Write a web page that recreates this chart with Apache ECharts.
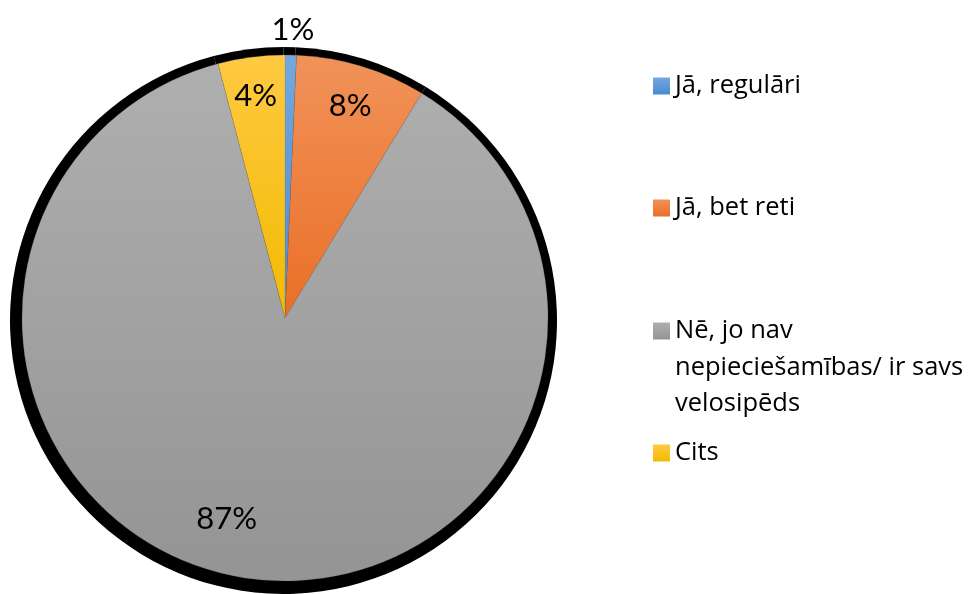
<!DOCTYPE html>
<html>
<head>
    <meta charset="utf-8">
    <title>Pie</title>
    <script type="text/javascript" src="https://cdn.jsdelivr.net/npm/echarts@6/dist/echarts.min.js"></script>
</head>
<body style="margin:0;background:#fff;">
    <div id="main" style="width:968px;height:594px;"></div>
    <script type="text/javascript">
        // dati
        var names = ['Jā, regulāri', 'Jā, bet reti', 'Nē, jo nav\nnepiecie\u0161amības/ ir savs\nvelosipēds', 'Cits'];
        var values = [0.7, 8, 87.2, 4.1];
        var topColors = ['#74a8de', '#f19259', '#afafaf', '#ffc942'];
        var bottomColors = ['#4a8ad2', '#ea6f26', '#949494', '#f2bb00'];

        // label nobīdes no "inside" pozīcijas
        var labelShift = [[5, -154], [26, -83], [-39, 68], [-12, -89]];
        // leģendas vienību centri (y)
        var legendY = [86, 208, 331, 453];
        var lineH = 36.5;

        var myChart = echarts.init(document.getElementById('main'));

        function grad(i) {
            return new echarts.graphic.LinearGradient(0, 0, 0, 1, [
                { offset: 0, color: topColors[i] },
                { offset: 1, color: bottomColors[i] }
            ]);
        }

        var mainData = [];
        var shadowData = [];
        for (var i = 0; i < names.length; i++) {
            mainData.push({ name: names[i], value: values[i], itemStyle: { color: grad(i) } });
            shadowData.push({ name: 'shadow_' + i, value: values[i] });
        }

        var legends = [];
        for (var i = 0; i < names.length; i++) {
            var lines = names[i].split('\n').length;
            var pad = lines - 1; // tukšas rindas augšā, lai ikona būtu pie pirmās rindas
            legends.push({
                orient: 'vertical',
                left: 653,
                top: legendY[i] - (pad + lines) * lineH / 2,
                padding: 0,
                itemWidth: 17,
                itemHeight: 17,
                icon: 'rect',
                selectedMode: false,
                itemStyle: { borderWidth: 0 },
                data: [names[i]],
                formatter: (function (p) {
                    return function (n) { return new Array(p + 1).join('\n') + n; };
                })(pad),
                textStyle: {
                    fontFamily: 'Open Sans',
                    fontSize: 25.5,
                    lineHeight: lineH,
                    color: '#000'
                }
            });
        }

        var option = {
            animation: false,
            legend: legends,
            series: [
                {
                    name: 'shadow',
                    type: 'pie',
                    silent: true,
                    z: 1,
                    center: [283.5, 320.5],
                    radius: 273.5,
                    startAngle: 90,
                    label: { show: false },
                    labelLine: { show: false },
                    itemStyle: { color: '#000', borderWidth: 0 },
                    data: shadowData
                },
                {
                    name: 'main',
                    type: 'pie',
                    z: 2,
                    center: [285, 318],
                    radius: 263,
                    startAngle: 90,
                    itemStyle: { borderColor: 'rgba(120,120,120,0.5)', borderWidth: 0.5 },
                    label: {
                        show: true,
                        position: 'inside',
                        fontFamily: 'Lato',
                        fontSize: 31,
                        color: '#000',
                        formatter: function (p) {
                            return Math.round(p.percent) + '%';
                        }
                    },
                    labelLayout: function (p) {
                        return { dx: labelShift[p.dataIndex][0], dy: labelShift[p.dataIndex][1] };
                    },
                    labelLine: { show: false },
                    emphasis: { disabled: true },
                    data: mainData
                }
            ]
        };

        myChart.setOption(option);
    </script>
</body>
</html>
